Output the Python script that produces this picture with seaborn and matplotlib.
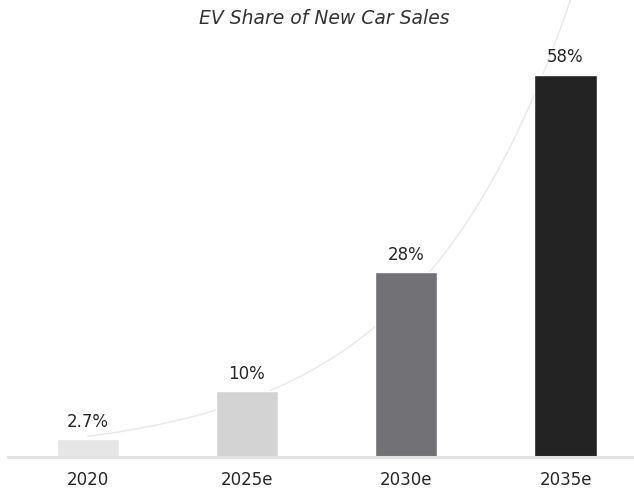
import numpy as np
import pandas as pd
import matplotlib
matplotlib.use("Agg")
import matplotlib.pyplot as plt
import seaborn as sns

# Data
years = ["2020", "2025e", "2030e", "2035e"]
ev_share = [2.7, 10, 28, 58]
value_labels = ["2.7%", "10%", "28%", "58%"]
bar_colors = ["#e6e6e6", "#d3d3d3", "#727176", "#232323"]

df = pd.DataFrame({"year": years, "share": ev_share})

sns.set_theme(style="white")
plt.rcParams["font.family"] = ["DejaVu Sans"]

fig = plt.figure(figsize=(6.34, 4.91), dpi=100)
ax = fig.add_axes([0.0126, 0.0692, 0.9874, 0.9308])

sns.barplot(data=df, x="year", y="share", hue="year", palette=bar_colors,
            width=0.39, legend=False, ax=ax, saturation=1)

# Exponential trend line fitted to the shares
xs = np.arange(len(ev_share))
slope, intercept = np.polyfit(xs, np.log(ev_share), 1)
xt = np.linspace(0, 3.3, 200)
ax.plot(xt, np.exp(intercept + slope * xt), color="#e9e9e9", lw=1.1, zorder=0.5)

# Value labels above bars
for i, (v, lab) in enumerate(zip(ev_share, value_labels)):
    ax.annotate(lab, (i, v), xytext=(0, 6), textcoords="offset points",
                ha="center", va="bottom", fontsize=12, color="#262626")

ax.set_xlim(-0.5, 3.43)
ax.set_ylim(0, 69.3)
ax.set_xlabel("")
ax.set_ylabel("")
ax.set_yticks([])
ax.tick_params(axis="x", length=0, pad=10, labelsize=12, labelcolor="#262626")
for s in ["top", "left", "right"]:
    ax.spines[s].set_visible(False)
ax.spines["bottom"].set_color("#e4e4e4")
ax.spines["bottom"].set_linewidth(2.2)

fig.text(0.512, 0.963, "EV Share of New Car Sales", ha="center", va="center",
         fontsize=13.5, style="italic", color="#333333")

fig.savefig("out.png", dpi=100, facecolor="white")
